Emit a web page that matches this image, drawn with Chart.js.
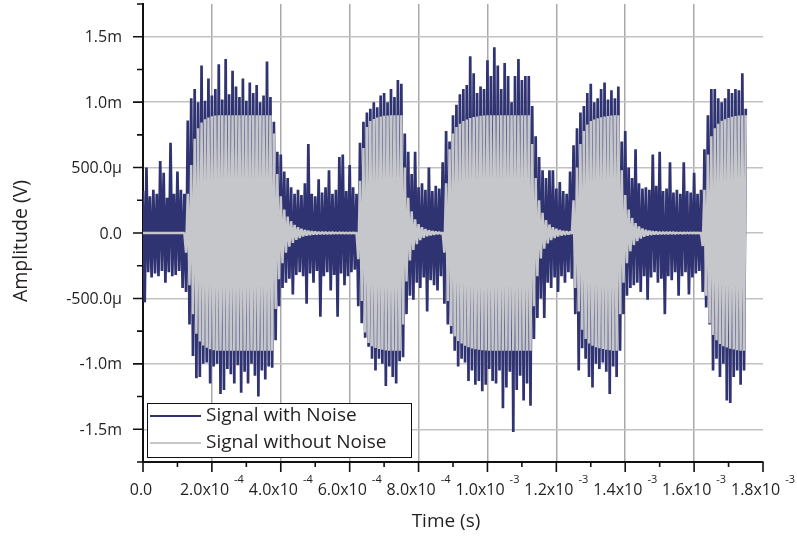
<!DOCTYPE html>
<html>
<head>
<meta charset="utf-8">
<script src="https://cdn.jsdelivr.net/npm/chart.js@4.4.1/dist/chart.umd.min.js"></script>
<style>
  html, body { margin: 0; padding: 0; background: #fff; }
</style>
</head>
<body>
<canvas id="chart" width="797" height="540"></canvas>
<script>
// samples are 5 us apart, amplitudes in microvolts
const sampleStep = 5e-6

const withNoise = [
  320,-530,500,-300,280,-340,330,-310,300,-330,
  550,-290,460,-380,270,-300,690,-330,300,-320,
  470,-290,330,-420,300,-450,860,-700,1030,-940,
  1100,-1110,1000,-1100,1280,-1000,1010,-990,1180,-1150,
  1050,-1020,1100,-1000,1290,-1230,1020,-1200,1330,-1040,
  1060,-1080,1240,-1150,1120,-1010,1040,-1220,1180,-1060,
  1010,-1150,1150,-1000,1070,-1090,1130,-1250,1000,-1050,
  1050,-1120,1310,-1020,1040,-1030,850,-820,620,-560,
  600,-420,470,-380,420,-350,350,-470,300,-320,
  330,-300,290,-330,380,-540,680,-310,300,-380,
  280,-290,410,-640,310,-330,350,-300,480,-440,
  300,-320,330,-640,580,-310,600,-400,320,-330,
  520,-300,350,-280,300,-560,690,-690,850,-800,
  920,-870,950,-960,1000,-1050,960,-960,1050,-1000,
  1070,-1170,1000,-1020,1100,-1100,1040,-1150,1170,-980,
  1140,-950,760,-620,620,-480,450,-510,620,-380,
  350,-420,380,-340,330,-600,500,-360,320,-400,
  360,-440,340,-330,540,-540,780,-700,700,-770,
  900,-900,980,-1020,1060,-960,1100,-990,1130,-1130,
  1350,-1050,1220,-1160,1070,-1130,1120,-1210,1100,-1160,
  1320,-1040,1200,-1130,1420,-1150,1280,-1050,1100,-1340,
  1300,-1180,1200,-1060,1000,-1520,1200,-1200,1330,-1090,
  1170,-1280,1200,-1150,1200,-1320,970,-810,740,-650,
  580,-500,480,-650,420,-380,480,-420,480,-340,
  340,-450,390,-330,320,-380,300,-300,470,-350,
  670,-620,800,-1050,920,-880,970,-960,1070,-1100,
  1140,-1180,1000,-1000,1030,-1040,1100,-990,1150,-1060,
  1020,-1230,1090,-1020,1030,-1100,1120,-900,700,-620,
  780,-480,500,-420,420,-400,640,-380,380,-450,
  340,-330,350,-510,330,-340,600,-300,360,-380,
  620,-350,320,-620,340,-330,540,-360,310,-300,
  330,-480,300,-330,540,-300,320,-470,310,-340,
  460,-310,300,-290,330,-450,640,-570,900,-700,
  1100,-1050,1100,-960,1030,-1100,1000,-1000,1030,-1280,
  1100,-1300,1070,-1100,1100,-1050,1090,-1160,1220,-1050,
  950
]

const withoutNoise = [
  0,0,0,0,0,0,0,0,0,0,
  0,0,0,0,0,0,0,0,0,0,
  0,0,0,0,0,-150,300,-400,520,-620,
  720,-770,800,-830,845,-860,870,-877,883,-888,
  892,-895,897,-899,900,-900,900,-900,900,-900,
  900,-900,900,-900,900,-900,900,-900,900,-900,
  900,-900,900,-900,900,-900,900,-900,900,-900,
  900,-900,900,-900,900,-900,760,-580,450,-354,
  280,-230,180,-150,125,-105,90,-75,62,-52,
  44,-38,32,-27,23,-20,17,-15,13,-11,
  10,-9,8,-8,7,-7,6,-6,5,-5,
  5,-4,4,-4,4,-3,3,-3,3,-3,
  2,-2,2,-2,2,-200,400,-520,650,-760,
  810,-840,855,-865,872,-878,883,-887,890,-893,
  895,-897,898,-900,900,-900,900,-900,900,-900,
  900,-700,500,-370,270,-210,165,-130,105,-85,
  68,-55,45,-37,30,-25,21,-17,14,-12,
  10,-8,7,-6,5,-150,380,-520,640,-710,
  760,-790,810,-825,835,-845,855,-862,868,-873,
  878,-882,886,-889,891,-893,895,-896,897,-898,
  899,-900,900,-900,900,-900,900,-900,900,-900,
  900,-900,900,-900,900,-900,900,-900,900,-900,
  900,-900,900,-900,900,-900,680,-560,420,-330,
  250,-195,155,-120,98,-80,65,-54,45,-38,
  32,-27,23,-19,16,-14,12,-10,9,-8,
  250,-420,500,-600,680,-740,780,-810,830,-845,
  855,-862,868,-873,877,-880,884,-887,890,-892,
  894,-896,898,-899,900,-900,900,-620,480,-380,
  290,-230,180,-140,115,-92,75,-62,50,-42,
  35,-29,24,-20,17,-14,12,-10,9,-9,
  8,-8,7,-7,6,-6,6,-5,5,-5,
  4,-4,4,-4,3,-3,3,-3,3,-2,
  2,-2,2,-2,2,-100,330,-480,600,-690,
  740,-780,800,-820,835,-848,858,-865,870,-875,
  880,-884,888,-891,894,-896,898,-899,900,-900,
  900
]

const seriesNames = ['Signal with Noise', 'Signal without Noise']
const seriesColors = ['#303371', '#c6c7ca']

const yTickValues = [-1500, -1000, -500, 0, 500, 1000, 1500]
const yTickLabels = ['-1.5m', '-1.0m', '-500.0\u00b5', '0.0', '500.0\u00b5', '1.0m', '1.5m']

const xTickValues = [0, 2e-4, 4e-4, 6e-4, 8e-4, 1e-3, 1.2e-3, 1.4e-3, 1.6e-3, 1.8e-3]
const xTickMantissa = ['0.0', '2.0x10', '4.0x10', '6.0x10', '8.0x10', '1.0x10', '1.2x10', '1.4x10', '1.6x10', '1.8x10']
const xTickExponent = ['', '-4', '-4', '-4', '-4', '-3', '-3', '-3', '-3', '-3']

const FONT = "'Open Sans', 'DejaVu Sans', sans-serif"
const INK = '#231f20'

const toPoints = (arr) => arr.map((v, i) => ({ x: i * sampleStep, y: v }))

// tick marks, tick labels, axis titles and the boxed legend
const axisDecor = {
  id: 'axisDecor',
  afterDraw(chart) {
    const ctx = chart.ctx
    const xs = chart.scales.x
    const ys = chart.scales.y
    const area = chart.chartArea
    ctx.save()

    ctx.strokeStyle = '#111'
    ctx.lineWidth = 1.6
    ctx.beginPath()
    for (let v = -1750; v <= 1750; v += 250) {
      const y = ys.getPixelForValue(v)
      const len = v % 500 === 0 ? 10 : 6
      ctx.moveTo(area.left, y)
      ctx.lineTo(area.left - len, y)
    }
    for (let k = 0; k <= 18; k++) {
      const x = xs.getPixelForValue(k * 1e-4)
      const len = k % 2 === 0 ? 10 : 5
      ctx.moveTo(x, area.bottom)
      ctx.lineTo(x, area.bottom + len)
    }
    ctx.stroke()

    ctx.fillStyle = INK
    ctx.font = '16px ' + FONT
    ctx.textAlign = 'right'
    ctx.textBaseline = 'middle'
    yTickValues.forEach((v, i) => {
      ctx.fillText(yTickLabels[i], area.left - 21, ys.getPixelForValue(v) + 1)
    })

    ctx.textAlign = 'left'
    ctx.textBaseline = 'alphabetic'
    xTickValues.forEach((v, i) => {
      const x = xs.getPixelForValue(v)
      ctx.font = '16px ' + FONT
      const wm = ctx.measureText(xTickMantissa[i]).width
      ctx.font = '11px ' + FONT
      const we = xTickExponent[i] ? ctx.measureText(xTickExponent[i]).width + 5 : 0
      const start = x - (wm + we) / 2 - (i === 0 ? 2 : 0)
      ctx.font = '16px ' + FONT
      ctx.fillText(xTickMantissa[i], start, area.bottom + 33)
      if (xTickExponent[i]) {
        ctx.font = '11px ' + FONT
        ctx.fillText(xTickExponent[i], start + wm + 5, area.bottom + 21)
      }
    })

    ctx.font = '19px ' + FONT
    ctx.textAlign = 'center'
    ctx.textBaseline = 'middle'
    ctx.fillText('Time (s)', 446, 522)
    ctx.save()
    ctx.translate(21, 241)
    ctx.rotate(-Math.PI / 2)
    ctx.font = '19.5px ' + FONT
    ctx.fillText('Amplitude (V)', 0, 0)
    ctx.restore()

    // legend box in the lower left corner of the plot
    const bx = area.left + 4, by = area.bottom - 59, bw = 264, bh = 54
    ctx.fillStyle = '#fff'
    ctx.fillRect(bx, by, bw, bh)
    ctx.strokeStyle = '#111'
    ctx.lineWidth = 1
    ctx.strokeRect(bx + 0.5, by + 0.5, bw, bh)
    ctx.font = '19px ' + FONT
    ctx.textAlign = 'left'
    seriesNames.forEach((name, i) => {
      const y = by + 13 + i * 27
      ctx.strokeStyle = seriesColors[i]
      ctx.lineWidth = 2
      ctx.beginPath()
      ctx.moveTo(bx + 3, y)
      ctx.lineTo(bx + 54, y)
      ctx.stroke()
      ctx.fillStyle = INK
      ctx.fillText(name, bx + 59, y)
    })

    ctx.restore()
  }
}

new Chart(document.getElementById('chart'), {
  type: 'line',
  data: {
    datasets: [{
      label: seriesNames[0],
      data: toPoints(withNoise),
      borderColor: seriesColors[0],
      borderWidth: 2.7,
      borderJoinStyle: 'bevel',
      pointRadius: 0,
      tension: 0,
      order: 1
    }, {
      label: seriesNames[1],
      data: toPoints(withoutNoise),
      borderColor: seriesColors[1],
      borderWidth: 2.5,
      borderJoinStyle: 'bevel',
      pointRadius: 0,
      tension: 0,
      order: 0
    }]
  },
  options: {
    responsive: false,
    animation: false,
    layout: { padding: { left: 143, right: 34, top: 4, bottom: 78 } },
    plugins: {
      legend: { display: false },
      tooltip: { enabled: false }
    },
    scales: {
      x: {
        type: 'linear',
        min: 0,
        max: 1.8e-3,
        ticks: { display: false, stepSize: 1e-4 },
        grid: {
          drawTicks: false,
          lineWidth: 1.5,
          color: (c) => {
            const k = Math.round(c.tick.value / 1e-4)
            return (k % 2 === 0 && k > 0 && k < 18) ? '#a9a9a9' : 'transparent'
          }
        },
        border: { display: true, color: '#111', width: 2 }
      },
      y: {
        min: -1750,
        max: 1750,
        ticks: { display: false, stepSize: 250 },
        grid: {
          drawTicks: false,
          lineWidth: 1.5,
          color: (c) => (c.tick.value % 500 === 0 ? '#c2c2c2' : 'transparent')
        },
        border: { display: true, color: '#111', width: 2 }
      }
    }
  },
  plugins: [axisDecor]
});
</script>
</body>
</html>
